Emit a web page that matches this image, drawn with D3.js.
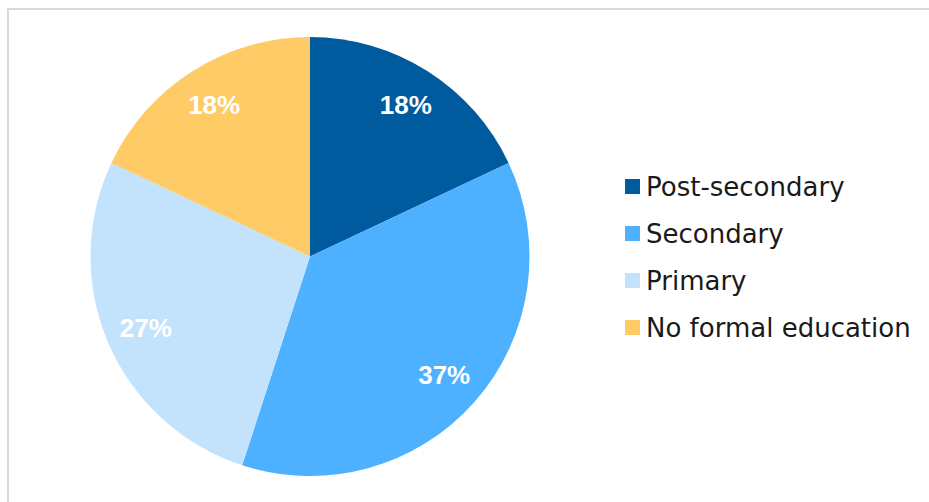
<!DOCTYPE html>
<html>
<head>
<meta charset="utf-8">
<script src="https://cdn.jsdelivr.net/npm/d3@7"></script>
<style>
  html, body { margin: 0; padding: 0; background: #fff; }
  svg { display: block; }
</style>
</head>
<body>
<svg id="chart" width="929" height="502"></svg>
<script>
// Education level shares (percent)
const categories = ["Post-secondary", "Secondary", "Primary", "No formal education"];
const shares = [18, 37, 27, 18];
const colors = ["#005a9e", "#4db1ff", "#c3e3fd", "#ffcb66"];

const svg = d3.select("#chart");
const W = 929, H = 502;

// Chart frame
svg.append("rect")
  .attr("x", 8).attr("y", 9)
  .attr("width", W + 10).attr("height", H + 10)
  .attr("fill", "#fff")
  .attr("stroke", "#d9d9d9")
  .attr("stroke-width", 2);

const cx = 310, cy = 256.5, R = 219.5;

const data = categories.map((c, i) => ({ name: c, value: shares[i], color: colors[i] }));

const pie = d3.pie().value(d => d.value).sort(null);
const arcs = pie(data);
const arc = d3.arc().innerRadius(0).outerRadius(R);
const labelArc = d3.arc().innerRadius(R * 0.815).outerRadius(R * 0.815);

const g = svg.append("g").attr("transform", `translate(${cx},${cy})`);

g.selectAll("path.slice")
  .data(arcs)
  .join("path")
  .attr("class", "slice")
  .attr("d", arc)
  .attr("fill", d => d.data.color);

g.selectAll("text.pct")
  .data(arcs)
  .join("text")
  .attr("class", "pct")
  .attr("transform", d => `translate(${labelArc.centroid(d)})`)
  .attr("text-anchor", "middle")
  .attr("dominant-baseline", "central")
  .attr("fill", "#ffffff")
  .attr("font-family", "'Liberation Sans', Arial, sans-serif")
  .attr("font-weight", "bold")
  .attr("font-size", 26)
  .text(d => d.data.value + "%");

// Legend
const legend = svg.append("g").attr("transform", "translate(625,186.5)");
const rowH = 47;
const item = legend.selectAll("g.item")
  .data(data)
  .join("g")
  .attr("class", "item")
  .attr("transform", (d, i) => `translate(0,${i * rowH})`);

item.append("rect")
  .attr("x", 0).attr("y", -7.5)
  .attr("width", 15).attr("height", 15)
  .attr("fill", d => d.color);

item.append("text")
  .attr("x", 21)
  .attr("y", 0)
  .attr("dominant-baseline", "central")
  .attr("fill", "#1a1a1a")
  .attr("font-family", "'DejaVu Sans', sans-serif")
  .attr("font-size", 26)
  .text(d => d.name);
</script>
</body>
</html>
